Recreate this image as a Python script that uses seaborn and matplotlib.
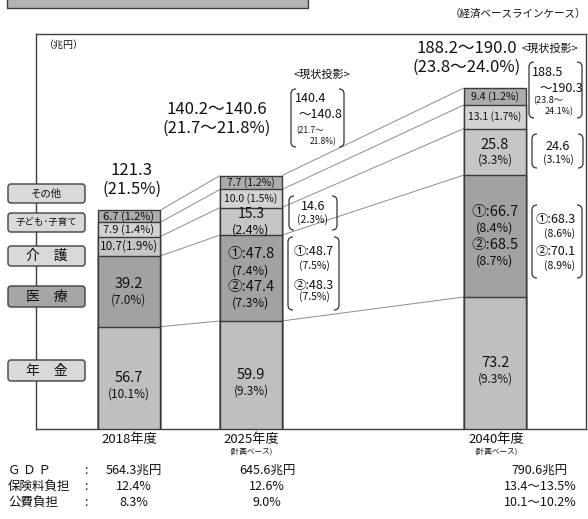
import matplotlib
matplotlib.use("Agg")
import matplotlib.pyplot as plt
import seaborn as sns
import pandas as pd
from matplotlib.patches import FancyBboxPatch, PathPatch, Rectangle
from matplotlib.path import Path

# --- data ---
years = ["2018年度", "2025年度", "2040年度"]
sub_labels = ["", "(計画ベース)", "(計画ベース)"]
categories = ["年金", "医療", "介護", "子ども・子育て", "その他"]
pension = [56.7, 59.9, 73.2]
medical = [39.2, 47.6, 67.6]
care = [10.7, 15.3, 25.8]
child = [7.9, 10.0, 13.1]
other = [6.7, 7.7, 9.4]

totals_main = ["121.3\n(21.5%)", "140.2～140.6\n(21.7～21.8%)", "188.2～190.0\n(23.8～24.0%)"]

seg_text = {
    "その他": [[("6.7 (1.2%)", 8)], [("7.7 (1.2%)", 7.5)], [("9.4 (1.2%)", 7.5)]],
    "子ども・子育て": [[("7.9 (1.4%)", 8)], [("10.0 (1.5%)", 7.5)], [("13.1 (1.7%)", 7.5)]],
    "介護": [[("10.7(1.9%)", 8.5)],
             [("15.3", 10), ("(2.4%)", 9)],
             [("25.8", 10.5), ("(3.3%)", 8.5)]],
    "医療": [[("39.2", 10.5), ("(7.0%)", 8.5)],
             [("①:47.8", 10.5), ("(7.4%)", 9), ("②:47.4", 10.5), ("(7.3%)", 9)],
             [("①:66.7", 10.5), ("(8.4%)", 9), ("②:68.5", 10.5), ("(8.7%)", 9)]],
    "年金": [[("56.7", 10.5), ("(10.1%)", 8.5)],
             [("59.9", 10.5), ("(9.3%)", 8.5)],
             [("73.2", 10.5), ("(9.3%)", 8.5)]],
}

row_names = ["Ｇ Ｄ Ｐ", "保険料負担", "公費負担"]
gdp = ["564.3兆円", "645.6兆円", "790.6兆円"]
premium = ["12.4%", "12.6%", "13.4～13.5%"]
public = ["8.3%", "9.0%", "10.1～10.2%"]

colors = {"年金": "#bfbfbf", "医療": "#a2a2a2", "介護": "#c6c6c6",
          "子ども・子育て": "#d3d3d3", "その他": "#acacac"}
legend_fill = {"年金": "#d9d9d9", "医療": "#a6a6a6", "介護": "#d9d9d9",
               "子ども・子育て": "#d9d9d9", "その他": "#d9d9d9"}

sns.set_theme(style="white")
plt.rcParams["font.family"] = ["Noto Sans CJK JP", "DejaVu Sans"]
plt.rcParams["text.color"] = "#111111"

df = pd.DataFrame({"year": years, "年金": pension, "医療": medical, "介護": care,
                   "子ども・子育て": child, "その他": other})
cum = df[categories].cumsum(axis=1)

fig = plt.figure(figsize=(5.88, 5.19), dpi=100)
W, H = 588, 519
ax = fig.add_axes([36 / W, (H - 429) / H, 550 / W, 395 / H])

order = [years[0], years[1], " ", years[2]]
bw = 0.508
for cat in categories[::-1]:
    sns.barplot(x=df["year"], y=cum[cat], order=order, color=colors[cat], saturation=1,
                width=bw, edgecolor="#3a3a3a", linewidth=1.0, ax=ax, zorder=3)

pos = [order.index(y) for y in years]
# connector lines between bars
for i in range(len(years) - 1):
    a, b = pos[i] + bw / 2, pos[i + 1] - bw / 2
    for cat in categories:
        ax.plot([a, b], [cum[cat][i], cum[cat][i + 1]], color="#8c8c8c", lw=0.7, zorder=2)


# labels inside bars
def seg_label(x, y, lines, dy=0.0):
    hs = [s * 1.2 for _, s in lines]
    top = sum(hs) / 2 + dy
    for (t, s), h in zip(lines, hs):
        ax.annotate(t, (x, y), xytext=(0, top - h / 2), textcoords="offset points",
                    ha="center", va="center", fontsize=s, zorder=5)
        top -= h


for i in range(len(years)):
    bottom = 0
    for cat in categories:
        top = cum[cat][i]
        dy = -5 if cat == "年金" else 0
        seg_label(pos[i], (bottom + top) / 2, seg_text[cat][i], dy)
        bottom = top

ax.set_xlim(-0.762, 3.746)
ax.set_ylim(0, 219)
ax.set_xticks([])
ax.set_yticks([])
ax.set_xlabel("")
ax.set_ylabel("")
for sp in ax.spines.values():
    sp.set_color("#404040")
    sp.set_linewidth(1.0)

# --- overlay in pixel coordinates for annotations ---
ov = fig.add_axes([0, 0, 1, 1], zorder=10)
ov.set_xlim(0, W)
ov.set_ylim(H, 0)
ov.axis("off")
ov.patch.set_alpha(0)

ov.add_patch(Rectangle((7, -4), 301, 12, fc="#b3b3b3", ec="#404040", lw=1))
ov.text(586, 14, "（経済ベースラインケース）", fontsize=7.6, ha="right", va="center")
ov.text(43, 45, "（兆円）", fontsize=7.2, ha="left", va="center")

# totals above bars
tot_xy = [(132, 180), (217, 119), (467, 58)]
for (x, y), t in zip(tot_xy, totals_main):
    ov.text(x, y, t, fontsize=12, ha="center", va="center", linespacing=1.1)


def bracket(x0, y0, x1, y1, r=5):
    verts = [(x0 + r, y0), (x0, y0), (x0, y0 + r), (x0, y1 - r), (x0, y1), (x0 + r, y1),
             (x1 - r, y0), (x1, y0), (x1, y0 + r), (x1, y1 - r), (x1, y1), (x1 - r, y1)]
    codes = [Path.MOVETO, Path.CURVE3, Path.CURVE3, Path.LINETO, Path.CURVE3, Path.CURVE3] * 2
    ov.add_patch(PathPatch(Path(verts, codes), fill=False, ec="#333333", lw=0.9))


ov.text(322, 75, "<現状投影>", fontsize=8, ha="center", va="center")
ov.text(522, 49, "<現状投影>", fontsize=8, ha="left", va="center")

bracket(291, 89, 344, 147)
ov.text(295, 99, "140.4", fontsize=9, ha="left", va="center")
ov.text(342, 115, "～140.8", fontsize=9, ha="right", va="center")
ov.text(296, 131, "(21.7～", fontsize=6, ha="left", va="center")
ov.text(310, 142, "21.8%)", fontsize=6, ha="left", va="center")

bracket(289, 196, 337, 230)
ov.text(313, 206, "14.6", fontsize=9, ha="center", va="center")
ov.text(313, 220, "(2.3%)", fontsize=7.5, ha="center", va="center")

bracket(288, 237, 339, 310)
ov.text(314, 251, "①:48.7", fontsize=9, ha="center", va="center")
ov.text(314, 266, "(7.5%)", fontsize=7.5, ha="center", va="center")
ov.text(314, 285, "②:48.3", fontsize=9, ha="center", va="center")
ov.text(314, 297, "(7.5%)", fontsize=7.5, ha="center", va="center")

bracket(529, 62, 582, 118)
ov.text(532, 72, "188.5", fontsize=9, ha="left", va="center")
ov.text(583, 88, "～190.3", fontsize=9, ha="right", va="center")
ov.text(533, 101, "(23.8～", fontsize=6.5, ha="left", va="center")
ov.text(545, 112, "24.1%)", fontsize=6.5, ha="left", va="center")

bracket(532, 134, 583, 168)
ov.text(558, 146, "24.6", fontsize=9, ha="center", va="center")
ov.text(558, 160, "(3.1%)", fontsize=7.5, ha="center", va="center")

bracket(532, 205, 582, 278)
ov.text(556, 220, "①:68.3", fontsize=9, ha="center", va="center")
ov.text(560, 234, "(8.6%)", fontsize=7.5, ha="center", va="center")
ov.text(556, 251, "②:70.1", fontsize=9, ha="center", va="center")
ov.text(560, 266, "(8.9%)", fontsize=7.5, ha="center", va="center")

# category boxes on the left
box_y = {"その他": (184, 203), "子ども・子育て": (213, 232), "介護": (246, 266),
         "医療": (286, 307), "年金": (360, 381)}
box_txt = {"その他": ("その他", 7.5), "子ども・子育て": ("子ども･子育て", 6.8),
           "介護": ("介　護", 10), "医療": ("医　療", 10), "年金": ("年　金", 10)}
for cat in categories:
    y0, y1 = box_y[cat]
    ov.add_patch(FancyBboxPatch((8, y0), 77, y1 - y0, boxstyle="round,pad=0,rounding_size=3",
                                fc=legend_fill[cat], ec="#404040", lw=1))
    t, s = box_txt[cat]
    ov.text(46.5, (y0 + y1) / 2, t, fontsize=s, ha="center", va="center")

# x labels
bar_px = [129, 251, 496]
for x, y, s in zip(bar_px, years, sub_labels):
    ov.text(x, 439, y, fontsize=9.5, ha="center", va="center")
    if s:
        ov.text(x, 452, s, fontsize=5.5, ha="center", va="center")

# bottom table
col_px = [134, 267, 540]
for r, (name, vals) in enumerate(zip(row_names, [gdp, premium, public])):
    y = 470 + r * 16
    ov.text(8, y, name, fontsize=9, ha="left", va="center")
    ov.text(86, y, ":", fontsize=9, ha="center", va="center")
    for x, v in zip(col_px, vals):
        ov.text(x, y, v, fontsize=9, ha="center", va="center")

fig.savefig("out.png", dpi=100)
